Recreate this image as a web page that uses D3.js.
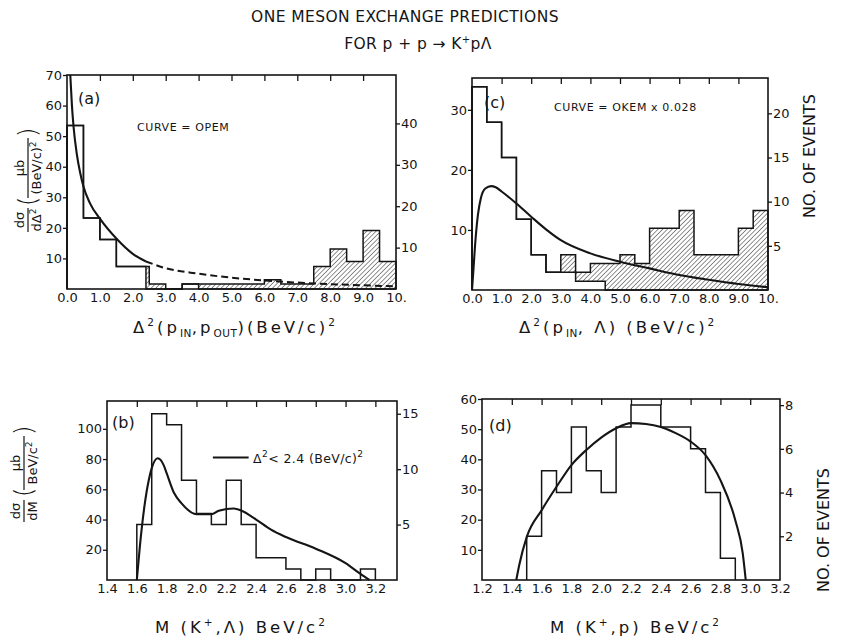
<!DOCTYPE html>
<html>
<head>
<meta charset="utf-8">
<script src="https://cdn.jsdelivr.net/npm/d3@7"></script>
<style>
body { margin:0; background:#fff; }
svg { font-family:"DejaVu Sans", sans-serif; fill:#151515; }
.frame { fill:none; stroke:#151515; stroke-width:1.6; }
.hist { fill:none; stroke:#151515; stroke-width:1.5; }
.curve { fill:none; stroke:#151515; stroke-width:2.1; }
.dash { fill:none; stroke:#151515; stroke-width:2; stroke-dasharray:7,4; }
.axis line { stroke:#151515; stroke-width:1.3; }
.axis path { display:none; }
.axis text { font-family:"DejaVu Sans", sans-serif; font-size:13px; fill:#151515; }
.note { font-size:11px; letter-spacing:0.6px; }
.lab { font-size:13px; }
.xlab { font-size:16.5px; letter-spacing:3px; }
.title { font-size:15.5px; letter-spacing:0.4px; }
</style>
</head>
<body>
<svg id="chart" width="845" height="641"></svg>
<script>
/* panel (a): delta^2(p_in,p_out), values in mub/(BeV/c)^2 */
var aEdges = [0,0.5,1,1.5,2.4,2.5,3,3.5,4,4.5,5,5.5,6,6.5,7,7.5,8,8.5,9,9.5,10]
var aClear = [53.5,23.2,16.2,7.4,0,0,0,1.6,0,0,0,0,0,0,0,0,0,0,0,0]
var aTotal = [53.5,23.2,16.2,7.4,7.4,1.6,0,1.6,1.6,1.6,1.6,1.6,3.0,1.6,1.6,7.4,13.1,9.0,19.1,9.0]
var aCurveX = [0.1,0.15,0.2,0.3,0.4,0.5,0.7,1.0,1.5,2.0,2.4]
var aCurveY = [70,60,53,44,38,33.5,28,23,16.5,11.5,9]
var aDashX = [2.4,3,4,5,6,7,8,9,10]
var aDashY = [9,6.8,5.0,3.7,2.8,2.1,1.6,1.2,0.9]

/* panel (c): delta^2(p_in,lambda), values in events */
var cEdges = [0,0.5,1,1.5,2,2.5,3,3.5,4,4.5,5,5.5,6,6.5,7,7.5,8,8.5,9,9.5,10]
var cClear = [23,19,15,8,4,2,2,1,1,0,0,0,0,0,0,0,0,0,0,0]
var cTotal = [23,19,15,8,4,2,4,2,3,3,4,3,7,7,9,4,4,4,7,9]
var cCurveX = [0,0.05,0.1,0.2,0.3,0.45,0.65,0.8,1.0,1.5,2.0,2.5,3,4,5,6,7,8,9,10]
var cCurveY = [0,3.5,7.2,12.5,15.3,16.9,17.3,17.1,16.4,14.4,12.2,10.1,8.3,6.1,4.7,3.6,2.5,1.7,1.0,0.45]

/* panel (b): M(K+,lambda), events per 0.1 */
var bEdges = [1.6,1.7,1.8,1.9,2.0,2.1,2.2,2.3,2.4,2.5,2.6,2.7,2.8,2.9,3.0,3.1,3.2]
var bEvents = [5,15,14,9,6,5,9,5,2,2,1,0,1,0,0,1]
var bCurveX = [1.6,1.62,1.65,1.68,1.7,1.74,1.78,1.8,1.85,1.9,2.0,2.1,2.15,2.25,2.3,2.4,2.5,2.6,2.8,3.0,3.1,3.16]
var bCurveY = [0,21.8,48,66,74,80.5,76,70.7,57.5,50.7,43.5,43.5,45.8,47.3,46,40,33.3,28.4,20.7,11.1,4,0]

/* panel (d): M(K+,p), events per 0.1 */
var dEdges = [1.5,1.6,1.7,1.8,1.9,2.0,2.1,2.2,2.3,2.4,2.5,2.6,2.7,2.8,2.9]
var dEvents = [2,5,4,7,5,4,7,8,8,7,7,6,4,1]
var dCurveX = [1.43,1.45,1.5,1.6,1.7,1.8,1.9,2.0,2.1,2.2,2.3,2.4,2.5,2.6,2.7,2.8,2.9,2.95,2.97]
var dCurveY = [0,5,14.2,23.1,30.9,38.1,43.1,47.2,50.3,52,51.7,50.7,48.7,45.9,41.4,33.1,19.8,8.8,0]

/* tick labels */
var deltaTicks = [0,1,2,3,4,5,6,7,8,9,10]
var deltaLabels = ["0.0","1.0","2.0","3.0","4.0","5.0","6.0","7.0","8.0","9.0","10."]
var bTicks = [1.4,1.6,1.8,2.0,2.2,2.4,2.6,2.8,3.0,3.2]
var dTicks = [1.2,1.4,1.6,1.8,2.0,2.2,2.4,2.6,2.8,3.0,3.2]

var svg = d3.select("#chart")
var defs = svg.append("defs")
var hatch = defs.append("pattern")
  .attr("id","hatch")
  .attr("patternUnits","userSpaceOnUse")
  .attr("width",3.3)
  .attr("height",3.3)
  .attr("patternTransform","rotate(45)")
hatch.append("line")
  .attr("x1",0).attr("y1",0)
  .attr("x2",0).attr("y2",3.3)
  .attr("stroke","#222")
  .attr("stroke-width",1)

function zip(xs, ys) {
  return xs.map(function(d,i) { return [d, ys[i]] })
}
function stepPoints(edges, vals) {
  var pts = [[edges[0],0]]
  vals.forEach(function(v,i) { pts.push([edges[i],v]) })
  pts.push([edges[edges.length-1], vals[vals.length-1]])
  pts.push([edges[edges.length-1], 0])
  return pts
}

function makePanel(p) {
  var g = svg.append("g")
  var x = d3.scaleLinear().domain(p.xDomain).range([p.left,p.right])
  var yL = d3.scaleLinear().domain(p.yDomain).range([p.bottom,p.top])
  var yR = d3.scaleLinear().domain(p.rDomain).range([p.bottom,p.top])

  g.append("g").attr("class","axis")
    .attr("transform","translate(" + p.left + ",0)")
    .call(d3.axisLeft(yL).tickValues(p.yTicks).tickSize(4).tickPadding(1).tickFormat(d3.format("d")))
  g.append("g").attr("class","axis")
    .attr("transform","translate(" + p.right + ",0)")
    .call(d3.axisRight(yR).tickValues(p.rTicks).tickSize(4).tickPadding(1).tickFormat(d3.format("d")))
  g.append("g").attr("class","axis")
    .attr("transform","translate(0," + p.top + ")")
    .call(d3.axisTop(x).tickValues(p.topTicks).tickSize(-6).tickFormat(""))
  g.append("g").attr("class","axis")
    .attr("transform","translate(0," + p.bottom + ")")
    .call(d3.axisBottom(x).tickValues(p.xTicks).tickSize(0).tickPadding(4).tickFormat(p.xFormat))

  g.append("rect")
    .attr("class","frame")
    .attr("x",p.left).attr("y",p.top)
    .attr("width",p.right-p.left).attr("height",p.bottom-p.top)
  return {g:g, x:x, yL:yL, yR:yR}
}

function drawHist(pn, y, edges, clear, total) {
  var stepLine = d3.line()
    .x(function(d) { return pn.x(d[0]) })
    .y(function(d) { return y(d[1]) })
    .curve(d3.curveStepAfter)
  if (total) {
    total.forEach(function(t,i) {
      if (t > clear[i]) {
        pn.g.append("rect")
          .attr("fill","url(#hatch)")
          .attr("x",pn.x(edges[i]))
          .attr("width",pn.x(edges[i+1]) - pn.x(edges[i]))
          .attr("y",y(t))
          .attr("height",y(clear[i]) - y(t))
      }
    })
    pn.g.append("path").attr("class","hist").attr("d",stepLine(stepPoints(edges,total)))
  }
  pn.g.append("path").attr("class","hist").attr("d",stepLine(stepPoints(edges,clear)))
}

function drawCurve(pn, xs, ys, cls) {
  var line = d3.line()
    .x(function(d) { return pn.x(d[0]) })
    .y(function(d) { return pn.yL(d[1]) })
    .curve(d3.curveMonotoneX)
  pn.g.append("path").attr("class",cls).attr("d",line(zip(xs,ys)))
}

function deltaFormat(d) { return deltaLabels[deltaTicks.indexOf(d)] }
function massFormat(d) { return d.toFixed(1) }

/* (a) */
var pa = makePanel({left:67, right:396, top:75, bottom:289,
  xDomain:[0,10], yDomain:[0,70], rDomain:[0,51.7],
  yTicks:[10,20,30,40,50,60,70], rTicks:[10,20,30,40],
  topTicks:[1,2,3,4,5,6,7,8,9], xTicks:deltaTicks, xFormat:deltaFormat})
drawHist(pa, pa.yL, aEdges, aClear, aTotal)
drawCurve(pa, aCurveX, aCurveY, "curve")
drawCurve(pa, aDashX, aDashY, "dash")
pa.g.append("text").attr("class","lab").attr("x",78).attr("y",104).style("font-size","16px").text("(a)")
pa.g.append("text").attr("class","note").attr("x",137).attr("y",131).text("CURVE = OPEM")

/* (c) */
var pc = makePanel({left:472, right:768, top:78, bottom:290,
  xDomain:[0,10], yDomain:[0,35.3], rDomain:[0,24],
  yTicks:[10,20,30], rTicks:[5,10,15,20],
  topTicks:[1,2,3,4,5,6,7,8,9], xTicks:deltaTicks, xFormat:deltaFormat})
drawHist(pc, pc.yR, cEdges, cClear, cTotal)
drawCurve(pc, cCurveX, cCurveY, "curve")
pc.g.append("text").attr("class","lab").attr("x",484).attr("y",108).style("font-size","16px").text("(c)")
pc.g.append("text").attr("class","note").attr("x",554).attr("y",111).text("CURVE = OKEM x 0.028")

/* (b) */
var pb = makePanel({left:107, right:397, top:401, bottom:580,
  xDomain:[1.4,3.345], yDomain:[0,118.4], rDomain:[0,16.15],
  yTicks:[20,40,60,80,100], rTicks:[5,10,15],
  topTicks:[1.6,1.8,2.0,2.2,2.4,2.6,2.8,3.0,3.2], xTicks:bTicks, xFormat:massFormat})
drawHist(pb, pb.yR, bEdges, bEvents, null)
drawCurve(pb, bCurveX, bCurveY, "curve")
pb.g.append("text").attr("class","lab").attr("x",112).attr("y",428).style("font-size","16px").text("(b)")
pb.g.append("line").attr("class","curve")
  .attr("x1",pb.x(2.11)).attr("x2",pb.x(2.35))
  .attr("y1",pb.yL(81)).attr("y2",pb.yL(81))
var bLeg = pb.g.append("text").attr("class","note").style("font-size","12.5px").style("letter-spacing","0.4px")
  .attr("x",pb.x(2.38)).attr("y",pb.yL(81) + 5)
bLeg.append("tspan").text("Δ")
bLeg.append("tspan").attr("dy",-6).style("font-size","9px").text("2")
bLeg.append("tspan").attr("dy",6).text("< 2.4 (BeV/c)")
bLeg.append("tspan").attr("dy",-6).style("font-size","9px").text("2")

/* (d) */
var pd = makePanel({left:482, right:780, top:399, bottom:580,
  xDomain:[1.2,3.2], yDomain:[0,60], rDomain:[0,8.28],
  yTicks:[10,20,30,40,50,60], rTicks:[2,4,6,8],
  topTicks:[1.4,1.6,1.8,2.0,2.2,2.4,2.6,2.8,3.0], xTicks:dTicks, xFormat:massFormat})
drawHist(pd, pd.yR, dEdges, dEvents, null)
drawCurve(pd, dCurveX, dCurveY, "curve")
pd.g.append("text").attr("class","lab").attr("x",489).attr("y",431).style("font-size","16px").text("(d)")

/* titles */
svg.append("text").attr("class","title").attr("x",405).attr("y",22)
  .attr("text-anchor","middle").text("ONE MESON EXCHANGE PREDICTIONS")
var t2 = svg.append("text").attr("class","title").attr("x",418).attr("y",49).attr("text-anchor","middle")
t2.append("tspan").text("FOR p + p → K")
t2.append("tspan").attr("dy",-6).style("font-size","10px").text("+")
t2.append("tspan").attr("dy",6).text("pΛ")

/* x axis titles */
function subSup(sel, parts) {
  parts.forEach(function(pt) {
    var t = sel.append("tspan").text(pt[0])
    if (pt[1] == "sub") t.attr("dy",4).style("font-size","10.5px").style("letter-spacing","0.5px")
    if (pt[1] == "sup") t.attr("dy",-7).style("font-size","10.5px")
    if (pt[1] == "back") t.attr("dy",-4)
    if (pt[1] == "down") t.attr("dy",7)
  })
}
var xa = svg.append("text").attr("class","xlab").attr("x",133).attr("y",333)
subSup(xa, [["Δ",""],["2","sup"],["(p","down"],["IN","sub"],[",p","back"],["OUT","sub"],[")(BeV/c)","back"],["2","sup"]])
var xc = svg.append("text").attr("class","xlab").attr("x",519).attr("y",333)
subSup(xc, [["Δ",""],["2","sup"],["(p","down"],["IN","sub"],[", Λ) (BeV/c)","back"],["2","sup"]])
var xb = svg.append("text").attr("class","xlab").attr("x",155).attr("y",633)
subSup(xb, [["M (K",""],["+","sup"],[",Λ)  BeV/c","down"],["2","sup"]])
var xd = svg.append("text").attr("class","xlab").attr("x",550).attr("y",633)
subSup(xd, [["M (K",""],["+","sup"],[",p)  BeV/c","down"],["2","sup"]])

/* y axis titles (rotated fractions) */
function frac(g, cx, top, w) {
  g.append("text").attr("x",cx).attr("y",-4).attr("text-anchor","middle").text(top)
  g.append("line").attr("x1",cx - w/2).attr("x2",cx + w/2).attr("y1",0).attr("y2",0)
    .attr("stroke","#151515").attr("stroke-width",1.2)
  return g.append("text").attr("x",cx).attr("y",13).attr("text-anchor","middle")
}
var ya = svg.append("g").attr("class","lab").attr("transform","translate(28,182) rotate(-90)")
var yaDen = frac(ya, -38, "dσ", 24)
yaDen.append("tspan").text("dΔ")
yaDen.append("tspan").attr("dy",-5).style("font-size","9px").text("2")
ya.append("text").attr("x",-24).attr("y",8).style("font-size","24px").style("font-weight","200").text("(")
var yaDen2 = frac(ya, 14, "μb", 60)
yaDen2.append("tspan").text("(BeV/c)")
yaDen2.append("tspan").attr("dy",-5).style("font-size","9px").text("2")
ya.append("text").attr("x",45).attr("y",8).style("font-size","24px").style("font-weight","200").text(")")

var yb = svg.append("g").attr("class","lab").attr("transform","translate(24,475) rotate(-90)")
frac(yb, -36, "dσ", 22).text("dM")
yb.append("text").attr("x",-22).attr("y",8).style("font-size","24px").style("font-weight","200").text("(")
var ybDen2 = frac(yb, 12, "μb", 54)
ybDen2.append("tspan").text("BeV/c")
ybDen2.append("tspan").attr("dy",-5).style("font-size","9px").text("2")
yb.append("text").attr("x",40).attr("y",8).style("font-size","24px").style("font-weight","200").text(")")

/* right axis titles */
svg.append("text").attr("class","lab").style("font-size","16px").attr("text-anchor","middle")
  .attr("transform","translate(815,156) rotate(-90)").text("NO. OF EVENTS")
svg.append("text").attr("class","lab").style("font-size","16px").attr("text-anchor","middle")
  .attr("transform","translate(829,530) rotate(-90)").text("NO. OF EVENTS")
</script>
</body>
</html>
